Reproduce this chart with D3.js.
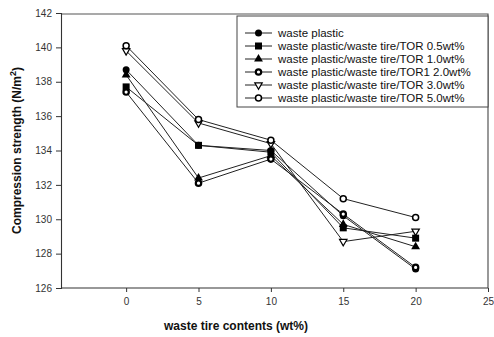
<!DOCTYPE html>
<html lang="en">
<head>
<meta charset="utf-8">
<title>Compression strength vs waste tire contents</title>
<script src="https://cdnjs.cloudflare.com/ajax/libs/d3/7.8.5/d3.min.js"></script>
<style>
  body { margin: 0; background: #fff; }
  text { font-family: "Liberation Sans", Arial, sans-serif; }
</style>
</head>
<body>
<script>
var w = 494, h = 337;
var margin = {left: 61, right: 6, top: 13, bottom: 49};

// data
var contents = [0, 5, 10, 15, 20];
var seriesNames = [
  "waste plastic",
  "waste plastic/waste tire/TOR 0.5wt%",
  "waste plastic/waste tire/TOR 1.0wt%",
  "waste plastic/waste tire/TOR1 2.0wt%",
  "waste plastic/waste tire/TOR 3.0wt%",
  "waste plastic/waste tire/TOR 5.0wt%"
];
var wastePlastic = [138.7, 134.3, 134.0, 130.2, 127.1];
var tor05 = [137.7, 134.3, 133.9, 129.5, 128.9];
var tor10 = [138.4, 132.4, 133.7, 129.7, 128.4];
var tor20 = [137.4, 132.1, 133.5, 130.3, 127.2];
var tor30 = [139.8, 135.6, 134.4, 128.7, 129.3];
var tor50 = [140.1, 135.8, 134.6, 131.2, 130.1];
var xTicks = [0, 5, 10, 15, 20, 25];
var yTicks = [126, 128, 130, 132, 134, 136, 138, 140, 142];

var allSeries = [wastePlastic, tor05, tor10, tor20, tor30, tor50];
var markers = ["dot", "square", "triangle", "ring", "tridown", "open"];

var svg = d3.select("body").append("svg")
  .attr("width", w).attr("height", h);

var x = d3.scaleLinear().domain([-4.5, 25]).range([margin.left, w - margin.right]);
var y = d3.scaleLinear().domain([126, 142]).range([h - margin.bottom, margin.top]);

// frame (top and right)
svg.append("path")
  .attr("d", "M" + x(-4.5) + "," + (y(142) + 1) + "H" + x(25) + "V" + y(126))
  .attr("fill", "none").attr("stroke", "#555").attr("stroke-width", 1.2);

// axes
var xAxis = svg.append("g")
  .attr("transform", "translate(0," + y(126) + ")")
  .call(d3.axisBottom(x).tickValues(xTicks).tickSize(4).tickPadding(6));
var yAxis = svg.append("g")
  .attr("transform", "translate(" + x(-4.5) + ",0)")
  .call(d3.axisLeft(y).tickValues(yTicks).tickSize(5).tickPadding(4));
[xAxis, yAxis].forEach(function(g) {
  g.select(".domain").attr("stroke", "#333").attr("stroke-width", 1.1);
  g.selectAll(".tick line").attr("stroke", "#333");
  g.selectAll(".tick text").attr("font-size", "10px").attr("fill", "#333")
    .attr("font-family", "'Liberation Sans', Arial, sans-serif");
});
xAxis.select(".domain").attr("d", "M" + x(-4.5) + ",0H" + x(25));

// axis titles
svg.append("text")
  .attr("x", 236).attr("y", 330)
  .attr("text-anchor", "middle")
  .attr("font-size", "12px").attr("font-weight", "bold").attr("fill", "#111")
  .text("waste tire contents (wt%)");
var yTitle = svg.append("text")
  .attr("transform", "translate(21," + ((y(126) + y(142)) / 2) + ") rotate(-90)")
  .attr("text-anchor", "middle")
  .attr("font-size", "12px").attr("font-weight", "bold").attr("fill", "#111");
yTitle.append("tspan").text("Compression strength (N/m");
yTitle.append("tspan").attr("dy", -5).attr("font-size", "9px").text("2");
yTitle.append("tspan").attr("dy", 5).text(")");

function drawMarker(g, type, cx, cy) {
  var r = 3.5;
  if (type === "dot") {
    g.append("circle").attr("cx", cx).attr("cy", cy).attr("r", r).attr("fill", "#000");
  } else if (type === "square") {
    g.append("rect").attr("x", cx - r).attr("y", cy - r).attr("width", 2 * r).attr("height", 2 * r).attr("fill", "#000");
  } else if (type === "triangle") {
    g.append("path").attr("d", d3.symbol(d3.symbolTriangle, 34)()).attr("transform", "translate(" + cx + "," + cy + ")").attr("fill", "#000");
  } else if (type === "ring") {
    g.append("circle").attr("cx", cx).attr("cy", cy).attr("r", 2.7).attr("fill", "#fff").attr("stroke", "#000").attr("stroke-width", 2.2);
  } else if (type === "tridown") {
    g.append("path").attr("d", d3.symbol(d3.symbolTriangle, 24)()).attr("transform", "translate(" + cx + "," + cy + ") rotate(180)")
      .attr("fill", "#fff").attr("stroke", "#000").attr("stroke-width", 1.2);
  } else {
    g.append("circle").attr("cx", cx).attr("cy", cy).attr("r", 3).attr("fill", "#fff").attr("stroke", "#000").attr("stroke-width", 1.5);
  }
}

var line = d3.line()
  .x(function(d, i) { return x(contents[i]); })
  .y(function(d) { return y(d); });

var plot = svg.append("g");
allSeries.forEach(function(s) {
  plot.append("path").datum(s).attr("d", line)
    .attr("fill", "none").attr("stroke", "#222").attr("stroke-width", 1);
});
allSeries.forEach(function(s, k) {
  s.forEach(function(v, i) { drawMarker(plot, markers[k], x(contents[i]), y(v)); });
});

// legend
var lg = svg.append("g");
lg.append("rect").attr("x", 237).attr("y", 16).attr("width", 251).attr("height", 91)
  .attr("fill", "#fff").attr("stroke", "#444").attr("stroke-width", 1);
seriesNames.forEach(function(name, k) {
  var ly = 33 + k * 13;
  lg.append("line").attr("x1", 245).attr("x2", 272).attr("y1", ly).attr("y2", ly)
    .attr("stroke", "#222").attr("stroke-width", 1);
  drawMarker(lg, markers[k], 258.5, ly);
  lg.append("text").attr("x", 278).attr("y", ly + 4)
    .attr("font-size", "11.5px").attr("fill", "#111").text(name);
});
</script>
</body>
</html>
